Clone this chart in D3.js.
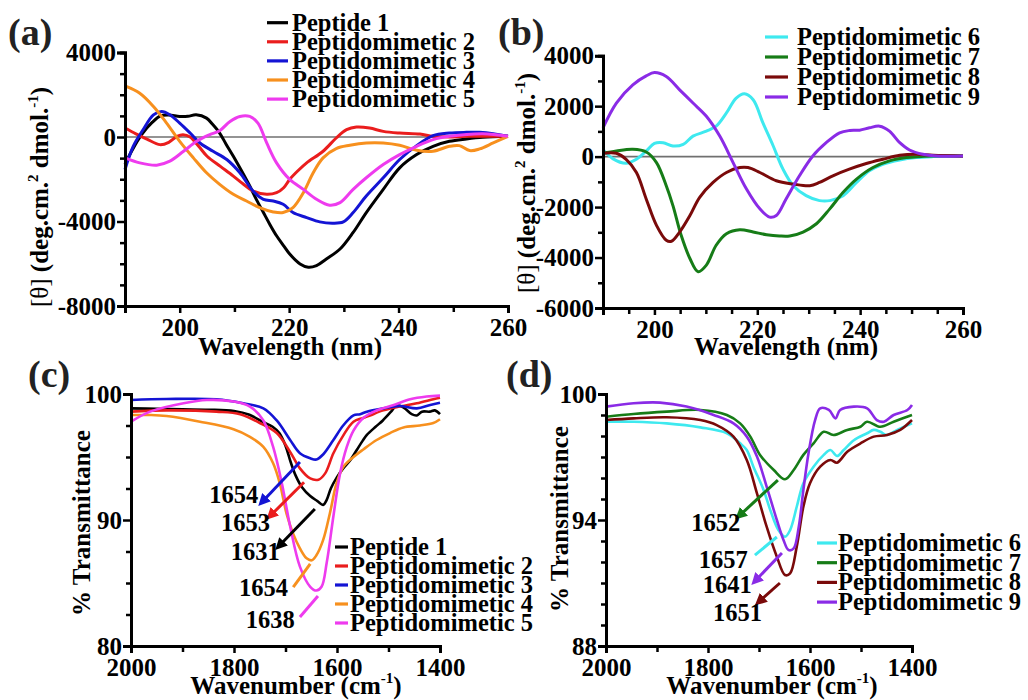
<!DOCTYPE html>
<html><head><meta charset="utf-8">
<script src="https://cdn.jsdelivr.net/npm/d3@7"></script>
</head><body style="margin:0;background:#fff">
<svg id="chart" width="1028" height="700"></svg>
<script>
// ---------- DATA ----------
// Panel (a): CD spectra, [wavelength nm, [θ]]
const A_pep1 = [[190,-1300],[191.3,-630],[193,100],[195,700],[196.5,1000],[198,1040],[200,970],[201.5,980],[203,1050],[204.9,894],[206,600],[207.3,188],[208.5,-350],[209.8,-910],[211.3,-1600],[212.8,-2322],[214,-2950],[215.3,-3577],[216.5,-4150],[217.7,-4676],[219,-5150],[220.1,-5538],[222,-6009],[223.5,-6166],[225,-6088],[226.8,-5774],[229.3,-5303],[231.7,-4519],[234.1,-3577],[237.2,-2479],[240.2,-1459],[243.3,-832],[246.3,-440],[249.3,-204],[252.4,-94],[255.4,-16],[260,31]];
const A_pm2 = [[190,424],[192,150],[194,-100],[196.4,-361],[198,-250],[199.5,30],[200.6,110],[201.9,0],[203.5,-450],[205,-910],[207.5,-1400],[209.8,-1850],[211.5,-2200],[213.4,-2557],[215.9,-2714],[217.7,-2636],[219,-2400],[220.1,-2008],[221.6,-1600],[223.2,-1224],[226.2,-675],[228.6,-47],[230.5,345],[232.3,470],[234.7,424],[237.2,267],[240.2,188],[243.9,141],[246.3,31],[249.3,0],[252.4,31],[260,31]];
const A_pm3 = [[190,-1538],[191.5,-440],[193.3,345],[195.2,1051],[196.7,1208],[198.2,1051],[200,659],[201.9,188],[203.7,-282],[206.1,-675],[208.6,-1067],[211,-1695],[213.4,-2557],[215.3,-2950],[217.1,-3028],[218.9,-3185],[220.7,-3577],[223.2,-3813],[225.6,-4017],[228,-4079],[229.9,-4017],[231.7,-3577],[234.1,-2793],[237.2,-1930],[240.2,-1067],[243.3,-408],[246.3,63],[249.3,188],[252.4,220],[254.8,220],[257.3,157],[260,31]];
const A_pm4 = [[190,2416],[192.7,2071],[195.2,1443],[197.6,659],[200,-204],[202.5,-988],[204.9,-1695],[207.3,-2244],[209.8,-2714],[212.2,-3028],[214.6,-3342],[217.1,-3546],[218.9,-3577],[220.7,-3342],[222.6,-2636],[224.4,-1695],[226.2,-988],[228.6,-549],[231.1,-392],[234.1,-282],[237.2,-282],[240.2,-392],[243.3,-628],[246.3,-675],[249.3,-440],[251.1,-408],[253,-643],[254.8,-565],[257.3,-282],[260,31]];
const A_pm5 = [[190,-988],[192.7,-1224],[195.8,-1334],[198.2,-1145],[200.7,-675],[203.1,-204],[205.5,110],[207.3,298],[209.2,737],[211,973],[212.8,973],[214.3,659],[215.9,-282],[217.7,-1224],[220.1,-2008],[222.6,-2479],[225,-2950],[227.4,-3232],[229.3,-3107],[231.7,-2479],[234.1,-1930],[237.2,-1302],[240.2,-832],[243.3,-440],[246.3,-126],[249.3,31],[255.4,157],[260,31]];
// Panel (b)
const B_pm6 = [[190,288],[191.9,-79],[194.5,-262],[196.5,-105],[198.4,223],[200,524],[201.7,551],[203.6,420],[205.6,485],[207.5,813],[210.1,1009],[212,1206],[214,1730],[215.9,2320],[217.5,2491],[219.2,2255],[221.1,1337],[223.1,420],[225,-498],[227,-1154],[229.5,-1547],[232.1,-1744],[234.1,-1744],[236.7,-1547],[239.3,-1023],[241.8,-564],[244.4,-302],[247.7,-131],[250.9,-39],[254.2,0],[260,26]];
const B_pm7 = [[190,131],[192.6,223],[195.8,288],[198.4,184],[200.4,-236],[202.3,-1154],[203.6,-1940],[205.2,-3120],[206.9,-4038],[208.5,-4562],[210.1,-4300],[212,-3513],[214,-3055],[216.6,-2897],[219.2,-2989],[221.8,-3094],[224.3,-3146],[226.3,-3146],[228.9,-2989],[231.5,-2661],[234.1,-2071],[236.7,-1416],[239.3,-891],[242.5,-433],[245.7,-170],[249,-39],[254.2,26],[260,26]];
const B_pm8 = [[190,131],[192.6,131],[194.5,-105],[196.5,-629],[198.4,-1678],[200.4,-2727],[202.3,-3317],[203.3,-3356],[204.9,-2989],[206.9,-2334],[208.8,-1612],[211.4,-1023],[214,-629],[216.6,-433],[218.2,-433],[220.5,-629],[223.7,-957],[227,-1088],[230.2,-1154],[232.1,-1023],[234.7,-760],[237.9,-498],[241.2,-275],[244.4,-105],[247.7,52],[250.9,92],[254.2,52],[260,26]];
const B_pm9 = [[190,1141],[192.6,2124],[195.8,2845],[198.4,3199],[200,3330],[202.3,3173],[204.9,2648],[207.5,2124],[210.1,1599],[212.7,813],[215.3,-236],[217.9,-1285],[220.5,-2071],[222.4,-2399],[223.7,-2334],[225.6,-1678],[228.2,-760],[230.8,26],[233.4,551],[236,944],[238,1036],[239.9,1049],[241.8,1141],[243.8,1206],[245.7,1009],[247.7,551],[249.6,262],[252.2,92],[254.8,26],[260,26]];
// Panel (c): FTIR, [wavenumber, %T]
const C_pep1 = [[2000,98.86],[1950,98.82],[1900,98.78],[1850,98.75],[1800,98.65],[1770,98.35],[1745,97.8],[1725,97.4],[1712,96.9],[1700,95.9],[1690,94.6],[1680,93.5],[1668,92.6],[1652,91.9],[1638,91.5],[1627,91.2],[1620,91.6],[1612,92.5],[1600,93.4],[1588,94.1],[1575,94.7],[1561,95.6],[1550,96.3],[1542,96.75],[1525,97.4],[1511,97.9],[1495,98.6],[1484,99.1],[1470,98.9],[1455,98.4],[1445,98.3],[1435,98.6],[1420,98.6],[1410,98.7],[1400,98.4]];
const C_pm2 = [[2000,98.6],[1931,98.7],[1834,98.6],[1788,98.4],[1750,97.7],[1717,96.9],[1691,95.4],[1672,94.1],[1652,93.3],[1636,93.2],[1623,93.7],[1607,95.3],[1588,96.7],[1568,97.8],[1549,98.1],[1536,98.3],[1510,98.7],[1478,99.0],[1445,99.26],[1413,99.58],[1400,99.7]];
const C_pm3 = [[2000,99.52],[1931,99.6],[1834,99.58],[1782,99.26],[1743,98.86],[1717,97.9],[1691,96.35],[1672,95.3],[1652,94.9],[1640,94.8],[1627,95.2],[1607,96.35],[1588,97.5],[1568,98.3],[1555,98.4],[1542,98.6],[1510,98.86],[1478,99.05],[1445,98.86],[1419,99.13],[1400,99.3]];
const C_pm4 = [[2000,98.33],[1963,98.33],[1931,98.25],[1866,97.8],[1801,97.2],[1769,96.6],[1743,95.8],[1724,94.5],[1711,92.9],[1698,90.5],[1685,88.9],[1672,87.75],[1659,86.96],[1649,86.8],[1640,87.2],[1627,88.4],[1614,90.5],[1601,92.9],[1588,94.2],[1568,95.0],[1549,95.6],[1523,96.35],[1497,96.9],[1471,97.35],[1439,97.5],[1413,97.7],[1400,98.0]];
const C_pm5 = [[2000,97.8],[1963,98.6],[1898,99.26],[1853,99.52],[1801,99.4],[1769,99.0],[1743,97.9],[1724,95.8],[1707,92.9],[1691,89.5],[1672,86.3],[1652,84.7],[1640,84.4],[1630,84.7],[1620,86.6],[1607,90.3],[1594,93.7],[1581,95.8],[1568,97.1],[1549,98.1],[1523,98.7],[1491,99.1],[1458,99.58],[1426,99.8],[1400,99.87]];
// Panel (d)
const D_pm6 = [[2000,98.68],[1946,98.68],[1881,98.6],[1815,98.41],[1763,98.13],[1737,97.65],[1724,97.33],[1711,96.54],[1691,95.43],[1678,94.48],[1662,93.52],[1649,93.2],[1639,93.52],[1626,94.63],[1613,95.75],[1593,96.54],[1573,97.1],[1560,97.33],[1547,97.05],[1534,97.33],[1514,97.8],[1488,98.13],[1475,98.29],[1462,98.2],[1449,98.05],[1429,98.29],[1400,98.6]];
const D_pm7 = [[2000,98.92],[1946,99.05],[1881,99.16],[1815,99.24],[1763,99.0],[1737,98.6],[1717,97.97],[1698,97.1],[1671,96.38],[1649,95.94],[1632,96.38],[1613,97.1],[1593,97.65],[1573,98.2],[1554,98.05],[1527,98.29],[1501,98.44],[1488,98.68],[1462,98.44],[1436,98.68],[1400,99.0]];
const D_pm8 = [[2000,98.76],[1946,98.84],[1881,98.89],[1815,98.76],[1783,98.52],[1750,97.97],[1724,96.86],[1704,95.27],[1685,93.68],[1665,92.25],[1649,91.38],[1639,91.46],[1626,92.73],[1613,94.63],[1600,95.75],[1580,96.54],[1560,96.86],[1547,96.73],[1527,97.25],[1501,97.65],[1475,97.97],[1449,98.05],[1423,98.29],[1400,98.76]];
const D_pm9 = [[2000,99.4],[1946,99.56],[1894,99.59],[1842,99.4],[1789,99.0],[1750,98.6],[1724,97.97],[1704,97.02],[1685,95.59],[1665,94.0],[1652,93.05],[1642,92.57],[1632,92.65],[1622,93.68],[1613,95.43],[1603,97.17],[1590,98.76],[1580,99.32],[1563,99.24],[1550,98.84],[1541,99.24],[1514,99.4],[1488,99.32],[1469,98.76],[1455,98.68],[1436,99.0],[1409,99.24],[1400,99.48]];

// Tick values
const A_xTicks = [190,200,210,220,230,240,250,260], A_xLabels = [200,220,240,260];
const A_yTicks = d3.range(-8000,4001,1000), A_yLabels = [-8000,-4000,0,4000];
const B_xTicks = d3.range(190,261,5), B_xLabels = [200,220,240,260];
const B_yTicks = d3.range(-6000,4001,1000), B_yLabels = [-6000,-4000,-2000,0,2000,4000];
const C_xTicks = [2000,1900,1800,1700,1600,1500,1400], C_xLabels = [2000,1800,1600,1400];
const C_yTicks = d3.range(80,100.1,2.5), C_yLabels = [80,90,100];
const D_xTicks = [2000,1900,1800,1700,1600,1500,1400], D_xLabels = [2000,1800,1600,1400];
const D_yTicks = d3.range(88,100.1,1), D_yLabels = [88,94,100];

// Legend names & colours
const A_names = ["Peptide 1","Peptidomimetic 2","Peptidomimetic 3","Peptidomimetic 4","Peptidomimetic 5"];
const A_colors = ["#000000","#ea1d1d","#1414d4","#f7901e","#ee3bee"];
const B_names = ["Peptidomimetic 6","Peptidomimetic 7","Peptidomimetic 8","Peptidomimetic 9"];
const B_colors = ["#3ee9ef","#167c17","#7a0a0a","#8a2be6"];

// Peak annotations: label, text anchor, arrow from, arrow to (data units), colour index, arrowhead
const C_notes = [
  {t:"1654", at:[1753,91.35], from:[1672,94.6], to:[1740,91.67], c:2, head:true},
  {t:"1653", at:[1730,89.13], from:[1664,93.0], to:[1724,90.56], c:1, head:true},
  {t:"1631", at:[1711,86.83], from:[1643,90.87], to:[1707,88.17], c:0, head:true},
  {t:"1654", at:[1695,83.97], from:[1652,86.51], to:[1685,84.68], c:3, head:false},
  {t:"1638", at:[1682,81.43], from:[1637,83.97], to:[1672,82.3], c:4, head:false}
];
const D_notes = [
  {t:"1652", at:[1737,93.48], from:[1663,95.9], to:[1733,94.33], c:1, head:true},
  {t:"1657", at:[1722,91.71], from:[1665,93.19], to:[1708,92.33], c:0, head:false},
  {t:"1641", at:[1714,90.52], from:[1655,92.43], to:[1702,91.24], c:3, head:true},
  {t:"1651", at:[1694,89.19], from:[1659,91.0], to:[1694,90.24], c:2, head:true}
];

// ---------- DRAW ----------
const FONT = '"Liberation Serif"';
const svg = d3.select("#chart");
const defs = svg.append("defs");
[...A_colors, ...B_colors].forEach(c=>{
  defs.append("marker").attr("id","ah"+c.slice(1)).attr("viewBox","0 0 10 10")
    .attr("refX",2).attr("refY",5).attr("markerWidth",4).attr("markerHeight",4)
    .attr("orient","auto").append("path").attr("d","M0,0L10,5L0,10z").attr("fill",c);
});

function panel(cfg){
  const g = svg.append("g");
  const x = d3.scaleLinear().domain(cfg.xd).range(cfg.xr);
  const y = d3.scaleLinear().domain(cfg.yd).range(cfg.yr);
  const fmt = v => String(v);
  if (cfg.zero) g.append("line").attr("x1",cfg.xr[0]).attr("x2",cfg.xr[1])
     .attr("y1",y(0)).attr("y2",y(0)).attr("stroke","#707070").attr("stroke-width",1.6);
  const line = d3.line().x(d=>x(d[0])).y(d=>y(d[1])).curve(d3.curveCatmullRom.alpha(0.5));
  cfg.series.forEach((s,i)=>{
    g.append("path").datum(s).attr("d",line).attr("fill","none")
     .attr("stroke",cfg.colors[i]).attr("stroke-width",cfg.lw).attr("stroke-linejoin","round");
  });
  const yMinor = cfg.yTicks.filter(v=>!cfg.yLabels.some(l=>Math.abs(l-v)<1e-6));
  const xMinor = cfg.xTicks.filter(v=>!cfg.xLabels.includes(v));
  const yAx = g.append("g").attr("transform",`translate(${cfg.xr[0]},0)`);
  yAx.call(d3.axisLeft(y).tickValues(yMinor).tickSize(5).tickFormat(""));
  yAx.append("g").call(d3.axisLeft(y).tickValues(cfg.yLabels).tickSize(8).tickPadding(1).tickFormat(fmt));
  const xAx = g.append("g").attr("transform",`translate(0,${cfg.yr[0]})`);
  xAx.call(d3.axisBottom(x).tickValues(xMinor).tickSize(6).tickFormat(""));
  xAx.append("g").call(d3.axisBottom(x).tickValues(cfg.xLabels).tickSize(7).tickPadding(5).tickFormat(fmt));
  g.selectAll("g").attr("font-family",FONT);
  g.selectAll(".domain").attr("stroke","#000").attr("stroke-width",3);
  g.selectAll(".tick line").attr("stroke","#000").attr("stroke-width",2.5);
  g.selectAll(".tick text").attr("font-weight","bold").attr("font-size",25).attr("fill","#000");
  cfg.names.forEach((n,i)=>{
    const ly = cfg.leg.y + i*cfg.leg.dy;
    g.append("line").attr("x1",cfg.leg.x1).attr("x2",cfg.leg.x2).attr("y1",ly).attr("y2",ly)
      .attr("stroke",cfg.colors[i]).attr("stroke-width",3.2);
    g.append("text").attr("x",cfg.leg.tx).attr("y",ly+8).text(n)
      .attr("font-weight","bold").attr("font-size",24.5).attr("fill","#000");
  });
  (cfg.notes||[]).forEach(nt=>{
    const col = cfg.colors[nt.c];
    const ln = g.append("line").attr("x1",x(nt.from[0])).attr("y1",y(nt.from[1]))
      .attr("x2",x(nt.to[0])).attr("y2",y(nt.to[1])).attr("stroke",col).attr("stroke-width",3);
    if (nt.head) ln.attr("marker-end",`url(#ah${col.slice(1)})`);
    g.append("text").attr("x",x(nt.at[0])).attr("y",y(nt.at[1])).attr("text-anchor","end")
      .text(nt.t).attr("font-weight","bold").attr("font-size",24.5).attr("fill","#000");
  });
  g.append("text").attr("x",cfg.pl[0]).attr("y",cfg.pl[1]).text(cfg.letter)
    .attr("font-weight","bold").attr("font-size",38).attr("fill","#222");
  const xt = g.append("text").attr("x",cfg.xt[0]).attr("y",cfg.xt[1]).attr("text-anchor","middle")
    .attr("font-weight","bold").attr("font-size",25).attr("fill","#000");
  cfg.xTitle(xt);
  const yt = g.append("text").attr("transform",`translate(${cfg.yt[0]},${cfg.yt[1]}) rotate(-90)`)
    .attr("text-anchor","middle").attr("font-weight","bold").attr("font-size",25).attr("fill","#000");
  cfg.yTitle(yt);
}

const cdY = t => { t.append("tspan").attr("font-weight","normal").text("[θ] ");
  t.append("tspan").text("(deg.cm.");
  t.append("tspan").attr("font-size",15).attr("dy",-10).text("2");
  t.append("tspan").attr("dy",10).text(" dmol.");
  t.append("tspan").attr("font-size",15).attr("dy",-10).text("-1");
  t.append("tspan").attr("dy",10).text(")"); };
const wlX = t => t.text("Wavelength (nm)");
const wnX = t => { t.append("tspan").text("Wavenumber (cm");
  t.append("tspan").attr("font-size",15).attr("dy",-11).text("-1");
  t.append("tspan").attr("dy",11).text(")"); };
const trY = t => t.text("% Transmittance");

panel({xd:[190,260], xr:[125,508], yd:[-8000,4000], yr:[306,52.5], zero:true,
  series:[A_pep1,A_pm2,A_pm3,A_pm4,A_pm5], colors:A_colors, names:A_names, lw:3,
  xTicks:A_xTicks, xLabels:A_xLabels, yTicks:A_yTicks, yLabels:A_yLabels,
  leg:{x1:267,x2:288,tx:292,y:22.7,dy:19.1}, letter:"(a)", pl:[8,45],
  xt:[290,355], xTitle:wlX, yt:[48,197], yTitle:cdY});
panel({xd:[190,260], xr:[603,963], yd:[-6000,4000], yr:[308,55.7], zero:true,
  series:[B_pm6,B_pm7,B_pm8,B_pm9], colors:B_colors, names:B_names, lw:3,
  xTicks:B_xTicks, xLabels:B_xLabels, yTicks:B_yTicks, yLabels:B_yLabels,
  leg:{x1:765,x2:788,tx:797,y:37,dy:20}, letter:"(b)", pl:[498,45],
  xt:[786,355], xTitle:wlX, yt:[535,183], yTitle:cdY});
panel({xd:[2000,1400], xr:[131,440], yd:[80,100], yr:[646,394], zero:false,
  series:[C_pep1,C_pm2,C_pm3,C_pm4,C_pm5], colors:A_colors, names:A_names, lw:2.6,
  xTicks:C_xTicks, xLabels:C_xLabels, yTicks:C_yTicks, yLabels:C_yLabels,
  leg:{x1:335,x2:348,tx:350,y:547,dy:19}, letter:"(c)", pl:[28,387], notes:C_notes,
  xt:[296,694], xTitle:wnX, yt:[90,523], yTitle:trY});
panel({xd:[2000,1400], xr:[606,912], yd:[88,100], yr:[646,394], zero:false,
  series:[D_pm6,D_pm7,D_pm8,D_pm9], colors:B_colors, names:B_names, lw:2.6,
  xTicks:D_xTicks, xLabels:D_xLabels, yTicks:D_yTicks, yLabels:D_yLabels,
  leg:{x1:817,x2:837,tx:838,y:543,dy:19.7}, letter:"(d)", pl:[506,387], notes:D_notes,
  xt:[772,694], xTitle:wnX, yt:[568,519], yTitle:trY});
svg.selectAll("text").attr("font-family", FONT);
</script>
</body></html>
